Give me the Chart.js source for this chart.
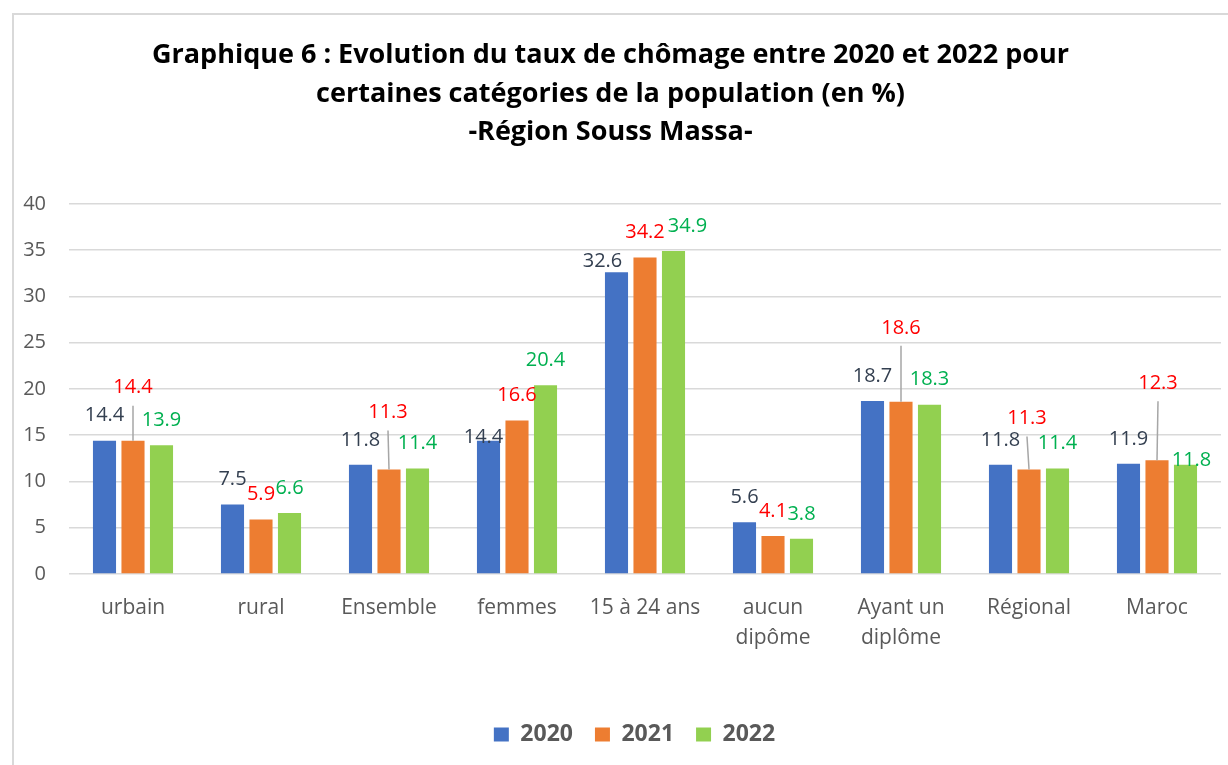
<!DOCTYPE html>
<html>
<head>
<meta charset="utf-8">
<script src="https://cdn.jsdelivr.net/npm/chart.js@4/dist/chart.umd.min.js"></script>
<style>
  html, body { margin: 0; padding: 0; background: #fff; }
  #wrap { position: relative; width: 1228px; height: 765px; overflow: hidden; }
  #frame { position: absolute; left: 12px; top: 13px; width: 1300px; height: 800px;
           border-left: 2px solid #d9d9d9; border-top: 2px solid #d9d9d9; }
  #graph { position: absolute; left: 0; top: 0; }
</style>
</head>
<body>
<div id="wrap">
  <div id="frame"></div>
  <canvas id="graph" width="1228" height="765"></canvas>
</div>
<script>
// données
const categories = [
  'urbain', 'rural', 'Ensemble', 'femmes', '15 à 24 ans',
  ['aucun', 'dipôme'], ['Ayant un', 'diplôme'], 'Régional', 'Maroc'
];
const annees = ['2020', '2021', '2022'];
const taux2020 = [14.4, 7.5, 11.8, 14.4, 32.6, 5.6, 18.7, 11.8, 11.9];
const taux2021 = [14.4, 5.9, 11.3, 16.6, 34.2, 4.1, 18.6, 11.3, 12.3];
const taux2022 = [13.9, 6.6, 11.4, 20.4, 34.9, 3.8, 18.3, 11.4, 11.8];
const yTicks = [0, 5, 10, 15, 20, 25, 30, 35, 40];

const couleursBarres = ['#4472C4', '#ED7D31', '#92D050'];
const couleursEtiquettes = ['#333F50', '#FF0000', '#00B050'];

// décalage des étiquettes (dx, dy) par rapport à la position par défaut
const decalages = [
  [[0,0],[0,0],[0,0],[-5,22],[-14,14],[0,0],[0,0],[0,0],[0,0]],
  [[0,-28],[0,0],[-1,-32],[0,0],[0,0],[0,0],[0,-49],[-2,-26],[1,-52]],
  [[0,0],[0,0],[0,0],[0,0],[14,0],[0,0],[0,0],[0,0],[6,20]]
];

const police = "'Open Sans', 'DejaVu Sans', sans-serif";

const etiquettes = {
  id: 'etiquettes',
  afterLayout(chart) {
    // légende décalée vers la droite comme dans l'original
    chart.legend.left += 24;
    chart.legend.right += 24;
  },
  afterDatasetsDraw(chart) {
    const ctx = chart.ctx;
    ctx.save();
    ctx.font = '20px ' + police;
    ctx.textAlign = 'center';
    ctx.textBaseline = 'middle';
    chart.data.datasets.forEach((ds, i) => {
      const meta = chart.getDatasetMeta(i);
      meta.data.forEach((bar, j) => {
        const [dx, dy] = decalages[i][j];
        const lx = bar.x + dx;
        const ly = bar.y - 25 + dy;
        if (dy < -15) {
          ctx.strokeStyle = '#a6a6a6';
          ctx.lineWidth = 1.5;
          ctx.beginPath();
          ctx.moveTo(lx, ly + 18);
          ctx.lineTo(bar.x, bar.y);
          ctx.stroke();
        }
        ctx.fillStyle = couleursEtiquettes[i];
        ctx.fillText(ds.data[j].toFixed(1), lx, ly);
      });
    });
    ctx.restore();
  }
};

const series = [taux2020, taux2021, taux2022];

new Chart(document.getElementById('graph').getContext('2d'), {
  type: 'bar',
  data: {
    labels: categories,
    datasets: series.map((vals, i) => ({
      label: annees[i],
      data: vals,
      backgroundColor: couleursBarres[i],
      borderWidth: 0,
      categoryPercentage: 0.668,
      barPercentage: 0.81
    }))
  },
  options: {
    responsive: false,
    animation: false,
    devicePixelRatio: 1,
    layout: { padding: { left: 0, right: 7, top: 0, bottom: 9 } },
    plugins: {
      title: {
        display: true,
        text: [
          'Graphique 6 : Evolution du taux de chômage entre 2020 et 2022 pour',
          'certaines catégories de la population (en %)',
          '-Région Souss Massa-'
        ],
        color: '#000000',
        font: { family: police, size: 27, weight: 'bold', lineHeight: 1.43 },
        padding: { top: 36, bottom: 52 }
      },
      legend: {
        position: 'bottom',
        labels: {
          color: '#595959',
          font: { family: police, size: 23, weight: 'bold' },
          boxWidth: 15,
          boxHeight: 14,
          padding: 22
        }
      },
      tooltip: { enabled: false }
    },
    scales: {
      x: {
        grid: { display: false },
        border: { display: false },
        ticks: {
          color: '#595959',
          font: { family: police, size: 21, lineHeight: 1.43 },
          padding: 11,
          maxRotation: 0,
          autoSkip: false
        },
        afterFit(scale) { scale.height = 127; }
      },
      y: {
        min: 0,
        max: 40,
        afterBuildTicks(scale) { scale.ticks = yTicks.map(v => ({ value: v })); },
        grid: { color: '#d9d9d9', lineWidth: 1.5, drawTicks: false },
        border: { display: false },
        ticks: {
          color: '#595959',
          font: { family: police, size: 20 },
          padding: 23
        },
        afterFit(scale) { scale.width = 69; }
      }
    }
  },
  plugins: [etiquettes]
});
</script>
</body>
</html>
